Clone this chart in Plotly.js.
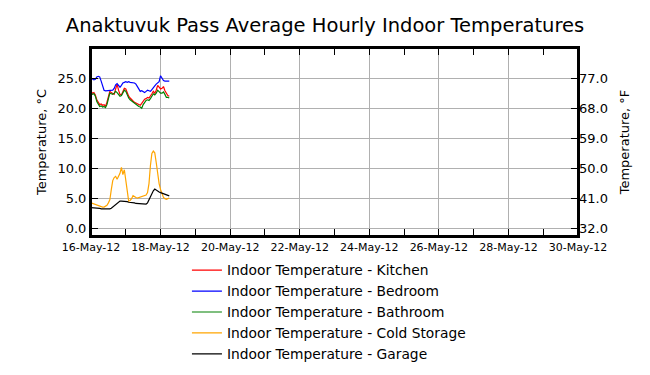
<!DOCTYPE html>
<html>
<head>
<meta charset="utf-8">
<script src="https://cdn.plot.ly/plotly-3.0.1.min.js"></script>
<style>html,body{margin:0;padding:0;background:#fff;}#chart{width:650px;height:375px;}</style>
</head>
<body>
<div id="chart"></div>
<script>
// Hourly readings starting 16-May-2012 00:00
const startTime = Date.UTC(2012, 4, 16, 0, 0, 0);

const kitchen = [22.8,22.5,22.6,22.2,21.4,20.9,20.6,20.7,20.5,20.6,20.3,21.0,22.0,22.8,22.6,22.4,22.3,23.2,24.0,23.0,22.3,22.2,22.7,23.3,23.2,22.5,22.0,21.7,21.4,21.2,21.0,20.9,20.7,20.6,20.5,20.8,21.2,21.5,21.6,21.8,21.7,22.0,22.4,22.8,22.5,23.0,23.8,23.5,23.2,23.3,23.6,22.9,22.4,22.1,22.0];
const bedroom = [25.0,24.9,24.7,24.8,25.2,25.3,25.2,24.5,23.6,23.0,22.9,22.9,23.0,22.9,23.0,23.0,23.3,23.9,24.1,23.7,23.5,23.8,24.2,24.3,24.4,24.3,24.4,24.3,24.3,24.2,24.2,24.0,23.6,23.0,22.8,22.9,22.8,22.6,22.8,23.0,22.9,22.8,23.1,23.5,23.7,24.0,24.2,24.4,25.4,25.0,24.6,24.5,24.5,24.5,24.5];
const bathroom = [22.5,22.3,22.4,22.0,21.1,20.6,20.3,20.4,20.2,20.3,20.1,20.6,21.7,22.5,22.4,22.3,22.5,22.8,22.6,22.3,22.0,22.1,22.6,23.0,22.8,22.2,21.7,21.4,21.2,21.0,20.8,20.7,20.5,20.3,20.2,20.0,20.6,21.0,21.3,21.4,21.3,21.6,22.0,22.4,22.2,22.5,23.0,22.7,22.5,22.5,22.7,22.3,21.8,21.8,21.7];
const coldStorage = [4.3,4.2,4.1,4.0,3.9,3.8,3.7,3.6,3.6,3.6,3.7,3.9,4.3,4.8,6.5,8.0,8.5,8.7,8.2,8.8,9.2,10.2,9.0,9.8,8.0,5.5,4.6,4.7,5.0,5.5,5.3,5.2,5.1,5.2,5.2,5.3,5.4,5.5,5.6,6.0,7.5,10.5,12.5,12.9,12.6,11.0,9.0,7.5,6.5,5.8,5.2,5.0,4.9,5.0,5.1];
const garage = [3.5,3.5,3.4,3.4,3.4,3.4,3.4,3.3,3.3,3.2,3.2,3.2,3.2,3.3,3.4,3.6,3.8,4.1,4.3,4.5,4.6,4.6,4.6,4.6,4.5,4.5,4.4,4.4,4.3,4.3,4.3,4.2,4.2,4.2,4.1,4.1,4.1,4.1,4.1,4.3,4.8,5.3,5.9,6.3,6.6,6.4,6.2,6.1,6.0,5.9,5.8,5.7,5.6,5.5,5.45];

const seriesNames = ['Indoor Temperature - Kitchen','Indoor Temperature - Bedroom','Indoor Temperature - Bathroom','Indoor Temperature - Cold Storage','Indoor Temperature - Garage'];
const seriesColors = ['#ff0000','#0000ff','#008000','#ffa500','#000000'];
const seriesValues = [kitchen, bedroom, bathroom, coldStorage, garage];

const xTickVals = ['2012-05-16','2012-05-18','2012-05-20','2012-05-22','2012-05-24','2012-05-26','2012-05-28','2012-05-30'];
const xTickText = ['16-May-12','18-May-12','20-May-12','22-May-12','24-May-12','26-May-12','28-May-12','30-May-12'];
const cTickVals = [0,5,10,15,20,25];
const fTickVals = [32,41,50,59,68,77];

function pad(n){return (n<10?'0':'')+n;}
function timeAt(i){
  const d = new Date(startTime + i*3600*1000);
  return d.getUTCFullYear()+'-'+pad(d.getUTCMonth()+1)+'-'+pad(d.getUTCDate())+' '+pad(d.getUTCHours())+':00:00';
}

const traces = seriesValues.map((vals, k) => ({
  type: 'scatter', mode: 'lines',
  x: vals.map((v, i) => timeAt(i)),
  y: vals,
  name: seriesNames[k],
  line: {color: seriesColors[k], width: 1.2},
  xaxis: 'x', yaxis: 'y'
}));
traces.push({type:'scatter', mode:'lines', x:[], y:[], xaxis:'x', yaxis:'y2', showlegend:false, hoverinfo:'skip'});

const cMin = -1.2, cMax = 30;
const font = 'DejaVu Sans, Arial, sans-serif';

const layout = {
  width: 650, height: 375,
  margin: {l: 91, r: 72, t: 48, b: 139, pad: 0},
  paper_bgcolor: '#fff', plot_bgcolor: '#fff',
  font: {family: font, color: '#000', size: 13},
  title: {text: 'Anaktuvuk Pass Average Hourly Indoor Temperatures', font: {size: 19.5, family: font, color:'#000'}, x: 0.5, xanchor: 'center', y: 0.933, yanchor: 'middle'},
  showlegend: true,
  legend: {x: 0.197, xanchor: 'left', xref: 'paper', y: 0.321, yref: 'container', yanchor: 'top', font: {size: 13.8, family: font}, bgcolor: 'rgba(0,0,0,0)', tracegroupgap: 0},
  xaxis: {
    type: 'date', range: ['2012-05-16', '2012-05-30'],
    tickmode: 'array', tickvals: xTickVals, ticktext: xTickText,
    tickfont: {size: 11, family: font},
    ticks: 'inside', ticklen: 7, tickcolor: '#000', tickwidth: 1,
    showgrid: true, gridcolor: '#b0b0b0', gridwidth: 1,
    showline: true, linecolor: '#000', linewidth: 2, mirror: 'allticks',
    minor: {dtick: 86400000, tick0: '2012-05-16', ticks: 'inside', ticklen: 4, tickcolor: '#000', showgrid: false},
    zeroline: false, fixedrange: true
  },
  yaxis: {
    range: [cMin, cMax],
    tickmode: 'array', tickvals: cTickVals, tickformat: '.1f',
    tickfont: {size: 13, family: font},
    ticks: 'inside', ticklen: 7, tickcolor: '#000',
    showgrid: true, gridcolor: '#b0b0b0', gridwidth: 1,
    showline: true, linecolor: '#000', linewidth: 2, mirror: true,
    zeroline: false,
    title: {text: 'Temperature, °C', font: {size: 13, family: font}, standoff: 8}
  },
  yaxis2: {
    overlaying: 'y', side: 'right',
    range: [cMin*1.8+32, cMax*1.8+32],
    tickmode: 'array', tickvals: fTickVals, tickformat: '.1f',
    tickfont: {size: 13, family: font},
    ticks: 'inside', ticklen: 7, tickcolor: '#000',
    showgrid: false, zeroline: false, showline: false,
    title: {text: 'Temperature, °F', font: {size: 13, family: font}, standoff: 12}
  },
  shapes: [{type: 'rect', xref: 'paper', yref: 'paper', x0: 0, x1: 1, y0: 0, y1: 1, line: {color: '#000', width: 2}, fillcolor: 'rgba(0,0,0,0)', layer: 'above'}]
};

Plotly.newPlot('chart', traces, layout, {staticPlot: true, displayModeBar: false});
</script>
</body>
</html>
